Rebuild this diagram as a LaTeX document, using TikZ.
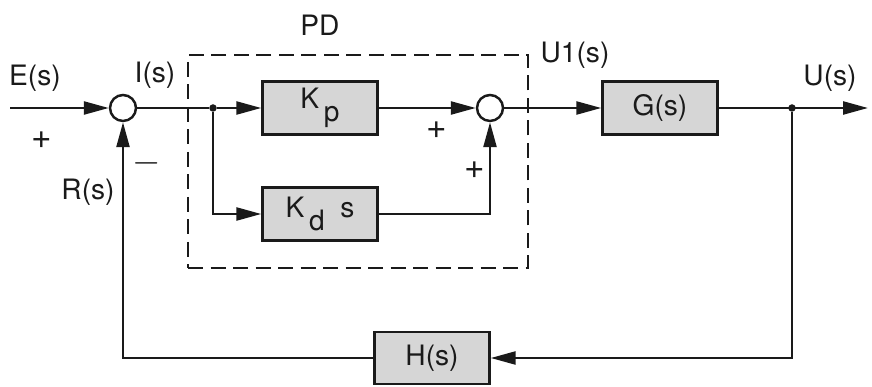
\documentclass[tikz,border=0pt]{standalone}
\usepackage{fontspec}
\setmainfont{TeX Gyre Heros}
\usepackage{xcolor}
\usepackage{tikz}
\usetikzlibrary{positioning,arrows.meta,calc}
\definecolor{BoxGray}{HTML}{D6D6D6}
\definecolor{LineDark}{HTML}{1A1A1A}

\begin{document}
\begin{tikzpicture}[
      blk/.style={rectangle, draw=LineDark, fill=BoxGray, text=LineDark,
                  line width=1.4pt, font=\fontsize{16}{18}\selectfont,
                  minimum width=2.3cm, minimum height=1.06cm},
      sm/.style={circle, draw=LineDark, fill=white,
                 line width=1.4pt, inner sep=0pt, minimum size=5.2mm},
      dt/.style={circle, fill=LineDark, inner sep=0pt, minimum size=1.5mm},
      pdbox/.style={rectangle, draw=LineDark, line width=0.8pt,
                    dash pattern=on 3mm off 1.5mm,
                    minimum width=6.8cm, minimum height=4.26cm},
      ar/.style={-{Triangle[length=5mm,width=2.6mm]}, LineDark, line width=1.4pt},
      ln/.style={LineDark, line width=1.4pt},
      lb/.style={font=\fontsize{16}{18}\selectfont, text=LineDark},
      sg/.style={font=\fontsize{20}{22}\selectfont, text=LineDark},
    ]
      \useasboundingbox (0,0) rectangle (17.44,7.74);
      \node[pdbox] (pd) at (7.16,4.51) {};
      \coordinate (in)  at (0.2,5.58);
      \coordinate (out) at (17.36,5.58);
      \node[sm] (s1) at (2.46,5.58) {};
      \node[dt] (b1) at (4.26,5.58) {};
      \node[blk] (kp) at (6.4,5.58) {K\,\raisebox{-0.9ex}{p}};
      \node[blk] (kd) at (6.4,3.46) {K\,\raisebox{-0.9ex}{d}\ \ s};
      \node[sm] (s2) at (9.8,5.58) {};
      \node[blk] (g)  at (13.2,5.58) {G(s)};
      \node[dt] (b2) at (15.84,5.58) {};
      \node[blk, minimum height=1.04cm] (h) at (8.64,0.58) {H(s)};
      % labels
      \node[lb] (le) at (0.7,6.18) {E(s)};
      \node[sg] (lp1) at (0.84,4.94) {+};
      \node[lb] (li) at (3.1,6.24) {I(s)};
      \node[sg] (lm) at (2.94,4.48) {$-$};
      \node[lb] (lr) at (1.76,3.9) {R(s)};
      \node[lb] (lpd) at (6.4,7.24) {PD};
      \node[lb] (lu1) at (11.5,6.64) {U1(s)};
      \node[sg] (lp2) at (8.74,5.14) {+};
      \node[sg] (lp3) at (9.5,4.34) {+};
      \node[lb] (lu) at (16.6,6.18) {U(s)};
      % connectors
      \draw[ar] (in) -- (s1);
      \draw[ln] (s1) -- (b1);
      \draw[ar] (b1) -- (kp);
      \draw[ar] (b1) |- (kd);
      \draw[ar] (kp) -- (s2);
      \draw[ar] (kd) -| (s2);
      \draw[ar] (s2) -- (g);
      \draw[ar] (g) -- (out);
      \draw[ar] (b2) |- (h);
      \draw[ar] (h) -| (s1);
    \end{tikzpicture}
\end{document}
